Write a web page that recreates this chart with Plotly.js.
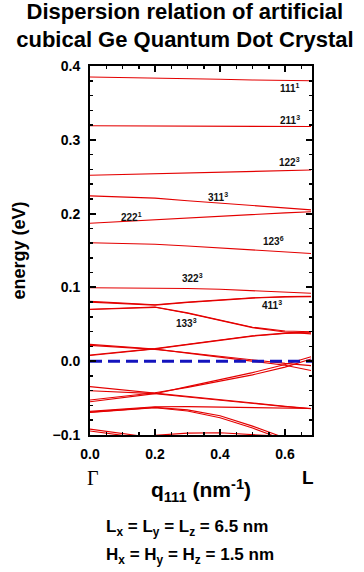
<!DOCTYPE html>
<html>
<head>
<meta charset="utf-8">
<script src="https://cdn.plot.ly/plotly-3.0.1.min.js"></script>
<style>html,body{margin:0;padding:0;background:#fff;}#chart{width:364px;height:572px;}</style>
</head>
<body>
<div id="chart"></div>
<script>
// wave vector along (111), nm^-1
var q = [0, 0.1, 0.2, 0.3, 0.4, 0.5, 0.6, 0.68];

// energy bands (eV)
var b111   = [0.385, 0.3845, 0.384, 0.383, 0.382, 0.381, 0.3805, 0.380];
var b211   = [0.319, 0.319, 0.319, 0.319, 0.3188, 0.3185, 0.3183, 0.318];
var b122   = [0.252, 0.253, 0.2545, 0.2555, 0.2565, 0.2575, 0.2585, 0.259];
var b311   = [0.224, 0.223, 0.221, 0.2175, 0.214, 0.211, 0.2075, 0.205];
var b222   = [0.187, 0.1895, 0.192, 0.1945, 0.197, 0.1995, 0.201, 0.2025];
var b123   = [0.1605, 0.160, 0.1585, 0.156, 0.1535, 0.151, 0.1485, 0.146];
var b322   = [0.0995, 0.0993, 0.099, 0.0985, 0.0975, 0.0955, 0.094, 0.092];
var b411a  = [0.081, 0.079, 0.0765, 0.080, 0.0835, 0.086, 0.0875, 0.088];
var b411b  = [0.080, 0.0785, 0.076, 0.0795, 0.083, 0.0855, 0.087, 0.0875];
var b133a  = [0.0703, 0.0715, 0.0735, 0.0655, 0.0555, 0.046, 0.041, 0.040];
var b133b  = [0.070, 0.0712, 0.073, 0.065, 0.055, 0.0455, 0.0395, 0.037];
var bUp1a  = [0.0077, 0.012, 0.0165, 0.0225, 0.0285, 0.034, 0.0375, 0.0385];
var bUp1b  = [0.0085, 0.0125, 0.017, 0.023, 0.029, 0.0345, 0.038, 0.0395];
var bDn1a  = [0.0228, 0.020, 0.0165, 0.011, 0.0055, 0.0005, -0.0055, -0.0125];
var bDn1b  = [0.0215, 0.019, 0.016, 0.0115, 0.0065, 0.0015, -0.003, -0.006];
var bUp2a  = [-0.0549, -0.0495, -0.044, -0.0345, -0.025, -0.0155, -0.0045, 0.006];
var bUp2b  = [-0.0525, -0.0475, -0.0428, -0.0355, -0.0272, -0.0185, -0.008, 0.003];
var bDn2a  = [-0.0345, -0.039, -0.0435, -0.048, -0.0525, -0.057, -0.061, -0.064];
var bDn2b  = [-0.040, -0.0415, -0.044, -0.0485, -0.053, -0.0575, -0.0615, -0.0645];
var bFlat  = [-0.068, -0.065, -0.0618, -0.0615, -0.062, -0.063, -0.0635, -0.064];
var bFallA = [-0.069, -0.0655, -0.0625, -0.066, -0.074, -0.088, -0.104, null];
var bFallB = [-0.0695, -0.066, -0.063, -0.0675, -0.0765, -0.0905, -0.107, null];
var bBotA  = [-0.092, -0.0985, -0.104, null, null, null, null, null];
var bBotB  = [-0.0945, -0.1005, null, null, null, null, null, null];
var bBotC  = [null, null, -0.1005, -0.0975, -0.097, -0.099, -0.102, null];

var bands = [b111, b211, b122, b311, b222, b123, b322, b411a, b411b, b133a, b133b,
             bUp1a, bUp1b, bDn1a, bDn1b, bUp2a, bUp2b, bDn2a, bDn2b, bFlat,
             bFallA, bFallB, bBotA, bBotB, bBotC];

// band labels
var labelText = ['111<sup>1</sup>', '211<sup>3</sup>', '122<sup>3</sup>', '311<sup>3</sup>', '222<sup>1</sup>',
                 '123<sup>6</sup>', '322<sup>3</sup>', '411<sup>3</sup>', '133<sup>3</sup>'];
var labelQ = [0.615, 0.615, 0.615, 0.394, 0.129, 0.563, 0.314, 0.56, 0.298];
var labelE = [0.370, 0.327, 0.270, 0.2229, 0.195, 0.163, 0.1123, 0.0762, 0.0513];

var fermi = [0, 0];
var fermiQ = [0, 0.683];

var traces = bands.map(function (b) {
  return {x: q, y: b, type: 'scatter', mode: 'lines', connectgaps: false,
          line: {color: 'rgb(228,0,0)', width: 1.1}, hoverinfo: 'skip', showlegend: false};
});
traces.push({x: fermiQ, y: fermi, type: 'scatter', mode: 'lines',
             line: {color: 'rgb(20,20,190)', width: 3, dash: '12px,6px'}, showlegend: false});

var F = 'Arial, "Liberation Sans", sans-serif';
var annotations = labelText.map(function (t, i) {
  return {x: labelQ[i], y: labelE[i], xref: 'x', yref: 'y', text: t, showarrow: false,
          xanchor: 'center', yanchor: 'middle',
          font: {family: F, size: 10, color: '#111', weight: 'bold'}};
});
annotations.push({x: 0.01, y: -0.1165, xref: 'x', yref: 'paper', text: 'Γ', showarrow: false,
                  xanchor: 'center', yanchor: 'middle',
                  font: {family: '"Liberation Serif", "Times New Roman", serif', size: 20, color: '#000'}});
annotations.push({x: 0.67, y: -0.1165, xref: 'x', yref: 'paper', text: 'L', showarrow: false,
                  xanchor: 'center', yanchor: 'middle',
                  font: {family: F, size: 19, color: '#000', weight: 'bold'}});
annotations.push({x: 0.439, y: -0.252, xref: 'paper', yref: 'paper', text: 'L<sub>x</sub> = L<sub>y</sub> = L<sub>z</sub> = 6.5 nm',
                  showarrow: false, xanchor: 'center', yanchor: 'middle',
                  font: {family: F, size: 17, color: '#000', weight: 'bold'}});
annotations.push({x: 0.45, y: -0.328, xref: 'paper', yref: 'paper', text: 'H<sub>x</sub> = H<sub>y</sub> = H<sub>z</sub> = 1.5 nm',
                  showarrow: false, xanchor: 'center', yanchor: 'middle',
                  font: {family: F, size: 17, color: '#000', weight: 'bold'}});

var axisCommon = {
  showgrid: false, zeroline: false, showline: true, linecolor: '#000', linewidth: 2,
  mirror: 'ticks', ticks: 'inside', ticklen: 6, tickwidth: 2, tickcolor: '#000',
  tickformat: '.1f', tickfont: {family: F, size: 14, color: '#000', weight: 'bold'}
};

var layout = {
  width: 364, height: 572, autosize: false,
  margin: {l: 90, r: 52, t: 66, b: 137, pad: 0},
  paper_bgcolor: '#fff', plot_bgcolor: '#fff',
  title: {text: 'Dispersion relation of artificial<br>cubical Ge Quantum Dot Crystal',
          x: 0.508, xref: 'container', xanchor: 'center', y: 0.967, yref: 'container', yanchor: 'middle',
          font: {family: F, size: 22, color: '#000', weight: 'bold'}},
  xaxis: Object.assign({}, axisCommon, {
    range: [0, 0.683], dtick: 0.2, tick0: 0, ticklabelstandoff: 5,
    minor: {dtick: 0.05, ticks: 'inside', ticklen: 3, tickwidth: 1.5, tickcolor: '#000'},
    title: {text: 'q<sub>111</sub> (nm<sup>-1</sup>)', standoff: 22,
            font: {family: F, size: 21, color: '#000', weight: 'bold'}}
  }),
  yaxis: Object.assign({}, axisCommon, {
    range: [-0.1, 0.4], dtick: 0.1, tick0: 0, ticklabelstandoff: 5,
    minor: {dtick: 0.02, ticks: 'inside', ticklen: 3, tickwidth: 1.5, tickcolor: '#000'},
    title: {text: 'energy (eV)', standoff: 22,
            font: {family: F, size: 18, color: '#000', weight: 'bold'}}
  }),
  annotations: annotations
};

Plotly.newPlot('chart', traces, layout, {staticPlot: true, displayModeBar: false});
</script>
</body>
</html>
